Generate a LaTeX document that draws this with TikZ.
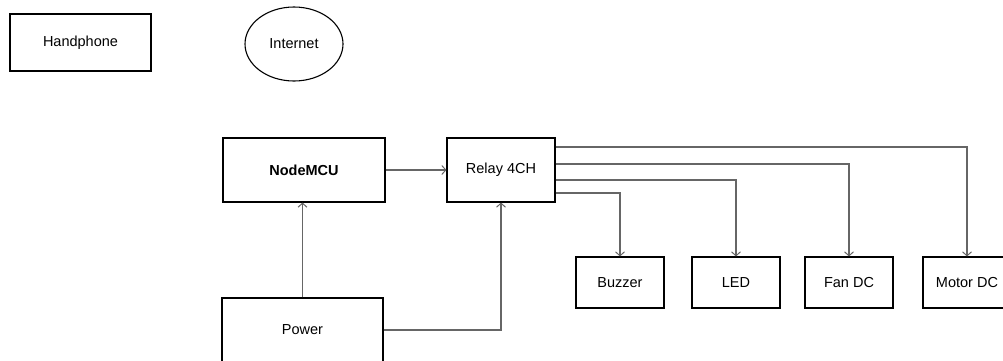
\documentclass[tikz,border=0pt]{standalone}
\usepackage{fontspec}
\setmainfont{Liberation Sans}
\usetikzlibrary{arrows.meta,shapes.geometric}
\begin{document}
\begin{tikzpicture}[x=1pt,y=-1pt,
  box/.style={draw=black,line width=1.1pt,minimum width=#1,inner sep=0pt,font=\fontsize{14.5}{17}\selectfont},
  box/.default=88pt,
  conn/.style={draw=black!60,line width=1.2pt,-{Straight Barb[length=4pt,width=9pt,line width=1pt]}}]
\useasboundingbox (0,0) rectangle (1003,360);
\node[box=141pt,minimum height=57pt] (hp) at (80.5,42.5) {Handphone};
\node[draw=black,line width=1.1pt,ellipse,minimum width=98pt,minimum height=74pt,inner sep=0pt,font=\fontsize{14.5}{17}\selectfont] (net) at (294,44) {Internet};
\node[box=162pt,minimum height=64pt,font=\fontsize{14.5}{17}\selectfont\bfseries] (mcu) at (304,170) {NodeMCU};
\node[box=108pt,minimum height=64pt] (relay) at (501,170) {Relay 4CH};
\node[box=161pt,minimum height=64pt] (power) at (302.5,330) {Power};
\node[box=88pt,minimum height=51pt] (buz) at (620,282.5) {Buzzer};
\node[box=88pt,minimum height=51pt] (led) at (736,282.5) {LED};
\node[box=88pt,minimum height=51pt] (fan) at (849,282.5) {Fan DC};
\node[box=88pt,minimum height=51pt] (motor) at (967,282.5) {Motor DC};
\draw[conn] (mcu) -- (relay);
\draw[conn] (power.north) -- (power.north |- mcu.south);
\draw[conn] (power.east) -| (relay.south);
\draw[conn] ([yshift=23pt]relay.east) -| (motor.north);
\draw[conn] ([yshift=6pt]relay.east) -| (fan.north);
\draw[conn] ([yshift=-10pt]relay.east) -| (led.north);
\draw[conn] ([yshift=-23pt]relay.east) -| (buz.north);
\end{tikzpicture}
\end{document}
